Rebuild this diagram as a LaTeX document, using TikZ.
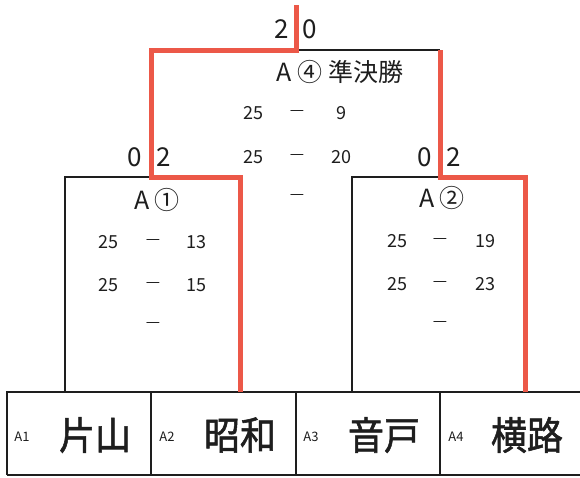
\documentclass[tikz,border=0pt]{standalone}
\usepackage{fontspec}
\setmainfont{Noto Sans CJK JP}
\newfontfamily\teamfont[FakeBold=1.4]{Noto Sans CJK JP}
\definecolor{winred}{RGB}{236,88,72}
\definecolor{ink}{RGB}{30,30,30}
\begin{document}
\begin{tikzpicture}[x=1pt,y=-1pt,
  line/.style={ink,line width=1.4pt},
  win/.style={winred,line width=5pt},
  score/.style={ink,font=\fontsize{18}{18}\selectfont},
  bar/.style={ink,font=\fontsize{16}{16}\selectfont},
  sets/.style={ink,font=\fontsize{26}{26}\selectfont},
  title/.style={ink,font=\fontsize{25}{25}\selectfont},
  team/.style={ink,font=\teamfont\fontsize{36}{36}\selectfont,yscale=1.08},
  seed/.style={ink,font=\fontsize{13}{13}\selectfont}]
\fill[white] (0,0) rectangle (580,477);
\useasboundingbox (0,0) rectangle (580,477);
% team row
\draw[line] (7,475) -- (7,392) -- (590,392);
\draw[line] (7,475) -- (590,475);
\foreach \x in {151,296,440} \draw[line] (\x,392) -- (\x,475);
\node[seed] (s1) at (22,437) {A1};
\node[seed] (s2) at (167,437) {A2};
\node[seed] (s3) at (311,437) {A3};
\node[seed] (s4) at (456,437) {A4};
\node[team] (t1) at (95,435) {片山};
\node[team] (t2) at (240,435) {昭和};
\node[team] (t3) at (384,435) {音戸};
\node[team] (t4) at (527,435) {横路};
% bracket slots
\coordinate (p1) at (65,392);
\coordinate (p2) at (240,392);
\coordinate (p3) at (352,392);
\coordinate (p4) at (525,392);
\coordinate (m1) at (151,177);
\coordinate (m2) at (440,177);
\coordinate (top) at (296,50);
\coordinate (win) at (296,5);
% black lines
\draw[line] (p1) |- (m1);
\draw[line] (p3) |- (m2);
\draw[line] (top) -- (m2 |- top);
% red lines
\draw[win,line join=miter] (p2) |- (m1) |- (top) -- (win);
\draw[win,line join=miter] (p4) |- (m2) -- (m2 |- top);
% final
\node[sets] (f1) at (282,29) {2};
\node[sets] (f2) at (310,29) {0};
\node[title] (a4) at (340,72) {A ④ 準決勝};
\node[score] (f11) at (253,113) {25};
\node[bar] (f12) at (297,113) {—};
\node[score] (f13) at (341,113) {9};
\node[score] (f21) at (253,157) {25};
\node[bar] (f22) at (297,157) {—};
\node[score] (f23) at (341,157) {20};
\node[bar] (f32) at (297,197) {—};
% match A1
\node[sets] (l1) at (135,157) {0};
\node[sets] (l2) at (164,157) {2};
\node[title] (a1) at (157,200) {A ①};
\node[score] (b11) at (108,242) {25};
\node[bar] (b12) at (153,242) {—};
\node[score] (b13) at (196,242) {13};
\node[score] (b21) at (108,285) {25};
\node[bar] (b22) at (153,285) {—};
\node[score] (b23) at (196,285) {15};
\node[bar] (b32) at (153,325) {—};
% match A2
\node[sets] (r1) at (425,157) {0};
\node[sets] (r2) at (454,157) {2};
\node[title] (a2) at (442,198) {A ②};
\node[score] (c11) at (397,241) {25};
\node[bar] (c12) at (440,241) {—};
\node[score] (c13) at (485,241) {19};
\node[score] (c21) at (397,284) {25};
\node[bar] (c22) at (440,284) {—};
\node[score] (c23) at (485,284) {23};
\node[bar] (c32) at (440,324) {—};
\end{tikzpicture}
\end{document}
